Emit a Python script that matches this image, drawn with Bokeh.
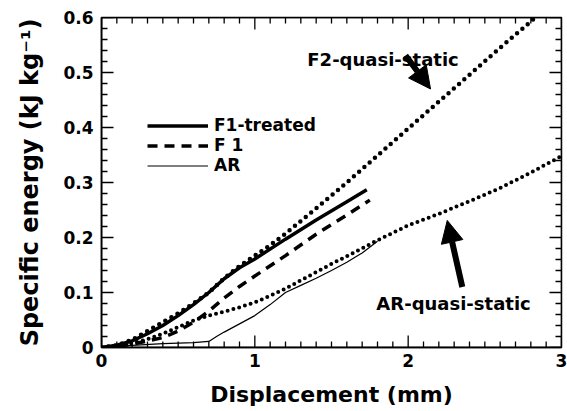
from bokeh.plotting import figure
from bokeh.models import (LinearAxis, FixedTicker, CustomJSTickFormatter,
                          Legend, LegendItem, Arrow, NormalHead, Label, Range1d)
from bokeh.embed import file_html
from bokeh.resources import INLINE

# ---------------- data ----------------
f2qs_x = [0, 0.1, 0.2, 0.3, 0.4, 0.5, 0.6, 0.7, 0.8, 0.9, 1.0, 1.1, 1.2, 1.4, 1.6, 1.8, 2.0, 2.2, 2.4, 2.6, 2.83]
f2qs_y = [0, 0.004, 0.014, 0.03, 0.046, 0.062, 0.08, 0.1, 0.126, 0.148, 0.167, 0.186, 0.207, 0.253, 0.3, 0.349, 0.398, 0.447, 0.496, 0.545, 0.6]

f1t_x = [0, 0.1, 0.2, 0.3, 0.4, 0.5, 0.6, 0.7, 0.8, 0.9, 1.0, 1.2, 1.4, 1.6, 1.73]
f1t_y = [0, 0.004, 0.012, 0.025, 0.04, 0.058, 0.078, 0.1, 0.125, 0.145, 0.161, 0.197, 0.232, 0.265, 0.287]

f1_x = [0, 0.1, 0.2, 0.3, 0.4, 0.5, 0.6, 0.7, 0.8, 0.9, 1.0, 1.2, 1.4, 1.6, 1.75]
f1_y = [0, 0.002, 0.006, 0.012, 0.018, 0.03, 0.046, 0.066, 0.09, 0.111, 0.13, 0.167, 0.206, 0.241, 0.268]

ar_x = [0, 0.2, 0.4, 0.6, 0.7, 0.75, 0.8, 0.9, 1.0, 1.1, 1.2, 1.3, 1.4, 1.5, 1.6, 1.7, 1.8]
ar_y = [0, 0.004, 0.007, 0.009, 0.011, 0.02, 0.028, 0.043, 0.058, 0.078, 0.1, 0.113, 0.126, 0.14, 0.155, 0.172, 0.193]

arqs_x = [0, 0.1, 0.2, 0.3, 0.4, 0.5, 0.6, 0.7, 0.8, 0.9, 1.0, 1.1, 1.2, 1.3, 1.4, 1.5, 1.6, 1.8, 2.0, 2.2, 2.4, 2.6, 2.8, 3.0]
arqs_y = [0, 0.003, 0.008, 0.015, 0.025, 0.037, 0.049, 0.058, 0.065, 0.073, 0.082, 0.094, 0.107, 0.122, 0.137, 0.152, 0.166, 0.195, 0.222, 0.243, 0.266, 0.29, 0.318, 0.348]

x_major = [0, 1, 2, 3]
y_major = [0, 0.1, 0.2, 0.3, 0.4, 0.5, 0.6]
x_minor = [i / 10 for i in range(31) if i % 10]
y_minor = [i / 50 for i in range(31) if i % 5]

legend_labels = ["F1-treated", "F 1", "AR"]
x_label = "Displacement (mm)"
y_label = "Specific energy (kJ kg\u207b\u00b9)"
f2_note = "F2-quasi-static"
ar_note = "AR-quasi-static"

# annotation anchors (data units)
f2_note_pos = (1.836, 0.524)
ar_note_pos = (2.296, 0.080)
f2_arrow = (1.983, 0.531, 2.146, 0.470)
ar_arrow = (2.353, 0.110, 2.255, 0.231)

FONT = "DejaVu Sans"
XMIN, XMAX, YMIN, YMAX = 0.0, 3.0, 0.0, 0.6
FRAME_W, FRAME_H = 460, 330

p = figure(width=567, height=411, output_backend="svg", toolbar_location=None,
           x_range=Range1d(XMIN, XMAX), y_range=Range1d(YMIN, YMAX),
           min_border_left=101, min_border_right=6, min_border_top=17, min_border_bottom=64)
p.background_fill_color = "white"
p.border_fill_color = "white"
p.outline_line_color = "black"
p.outline_line_width = 1.5
p.xgrid.visible = False
p.ygrid.visible = False

for r in list(p.below):
    p.below.remove(r)
for r in list(p.left):
    p.left.remove(r)

xfmt = CustomJSTickFormatter(code="return tick.toFixed(0);")
yfmt = CustomJSTickFormatter(code="return Math.abs(tick) < 1e-9 ? '0' : tick.toFixed(1);")

def style(ax, size_label):
    ax.axis_line_color = "black"
    ax.axis_line_width = 1.5
    ax.major_tick_line_color = None
    ax.minor_tick_line_color = None
    ax.major_tick_out = 0
    ax.minor_tick_out = 0
    ax.major_label_text_font = FONT
    ax.major_label_text_font_style = "bold"
    ax.major_label_text_font_size = "17px"
    ax.major_label_text_color = "black"
    ax.axis_label_text_font = FONT
    ax.axis_label_text_font_style = "bold"
    ax.axis_label_text_font_size = size_label
    ax.axis_label_text_color = "black"

xb = LinearAxis(ticker=FixedTicker(ticks=x_major), formatter=xfmt, axis_label=x_label)
style(xb, "22px")
xb.major_label_standoff = 6
xb.axis_label_standoff = 12
p.add_layout(xb, "below")

yl = LinearAxis(ticker=FixedTicker(ticks=y_major), formatter=yfmt, axis_label=y_label)
style(yl, "24px")
yl.major_label_standoff = 8
yl.axis_label_standoff = 16
p.add_layout(yl, "left")

# inward ticks drawn as one continuous "comb" path per frame edge
dx = (XMAX - XMIN) / FRAME_W
dy = (YMAX - YMIN) / FRAME_H
MAJ, MIN = 12, 6

def comb(ticks_major, ticks_minor, base, sign, horizontal):
    pts = sorted([(t, MAJ) for t in ticks_major] + [(t, MIN) for t in ticks_minor])
    xs, ys = [], []
    for t, L in pts:
        if horizontal:  # ticks along a horizontal edge
            xs += [t, t, t]
            ys += [base, base + sign * L * dy, base]
        else:
            ys += [t, t, t]
            xs += [base, base + sign * L * dx, base]
    return xs, ys

for args in ((x_major, x_minor, YMIN, 1, True), (x_major, x_minor, YMAX, -1, True),
             (y_major, y_minor, XMIN, 1, False), (y_major, y_minor, XMAX, -1, False)):
    cx, cy = comb(*args)
    p.line(cx, cy, line_color="black", line_width=1.3)

# curves
p.line(f2qs_x, f2qs_y, line_color="black", line_width=4.5, line_dash="0 7", line_cap="round")
p.line(arqs_x, arqs_y, line_color="black", line_width=4, line_dash="0 6", line_cap="round")
r_ar = p.line(ar_x, ar_y, line_color="black", line_width=1.2)
r_f1 = p.line(f1_x, f1_y, line_color="black", line_width=3.5, line_dash="10 7")
r_f1t = p.line(f1t_x, f1t_y, line_color="black", line_width=3.5)

legend = Legend(items=[LegendItem(label=legend_labels[0], renderers=[r_f1t]),
                       LegendItem(label=legend_labels[1], renderers=[r_f1]),
                       LegendItem(label=legend_labels[2], renderers=[r_ar])],
                location=(46, 172), padding=0, margin=0, spacing=0,
                glyph_width=61, glyph_height=19, label_height=19, label_standoff=6,
                label_text_font=FONT, label_text_font_style="bold", label_text_font_size="17px",
                label_text_color="black",
                border_line_color=None, background_fill_alpha=0)
p.add_layout(legend, "center")

# annotations
for (txt, pos) in [(f2_note, f2_note_pos), (ar_note, ar_note_pos)]:
    p.add_layout(Label(x=pos[0], y=pos[1], text=txt, text_align="center", text_baseline="middle",
                       text_font=FONT, text_font_style="bold", text_font_size="18px", text_color="black"))

for a in (f2_arrow, ar_arrow):
    p.add_layout(Arrow(x_start=a[0], y_start=a[1], x_end=a[2], y_end=a[3],
                       line_color="black", line_width=6,
                       end=NormalHead(size=22, fill_color="black", line_color="black")))

open("out.html", "w").write(file_html(p, INLINE))
